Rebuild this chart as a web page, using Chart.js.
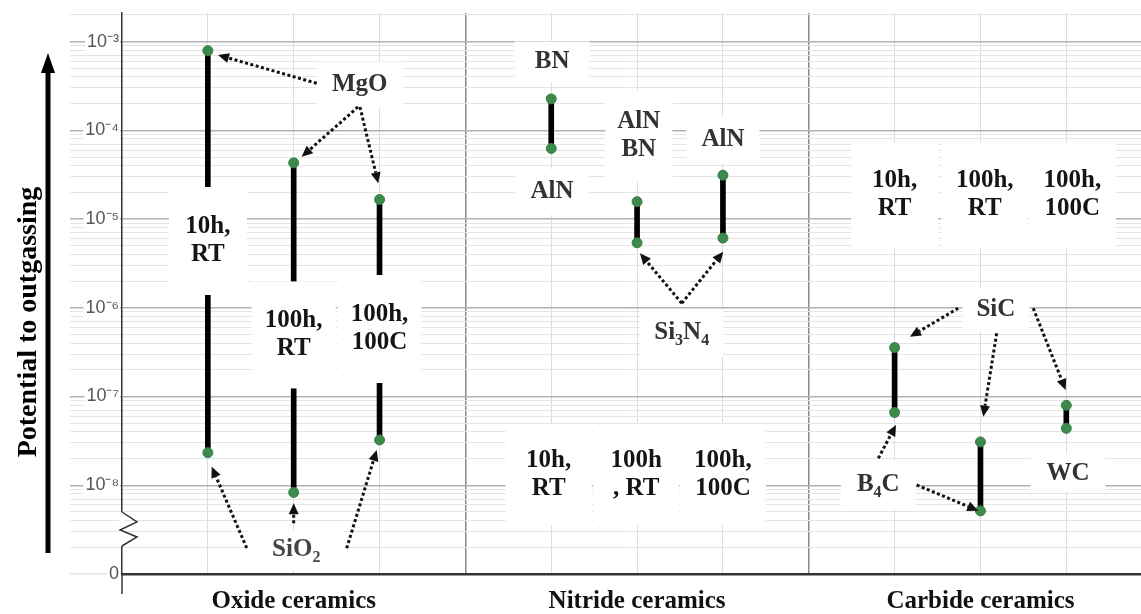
<!DOCTYPE html>
<html>
<head>
<meta charset="utf-8">
<script src="https://cdn.jsdelivr.net/npm/chart.js@4.4.1/dist/chart.umd.min.js"></script>
<style>
  html, body { margin: 0; padding: 0; background: #fff; }
  #wrap { width: 1141px; height: 614px; position: relative; }
</style>
</head>
<body>
<div id="wrap"><canvas id="outgassing"></canvas></div>
<script>
const groups = ['Oxide ceramics', 'Nitride ceramics', 'Carbide ceramics'];
const conditions = ['10h, RT', '100h, RT', '100h, 100C'];
// top / bottom of each range, same order as conditions
const oxideHigh   = [7.9e-4, 4.3e-5, 1.66e-5];
const oxideLow    = [2.33e-8, 8.3e-9, 3.24e-8];
const nitrideHigh = [2.26e-4, 1.57e-5, 3.12e-5];
const nitrideLow  = [6.24e-5, 5.4e-6, 6.1e-6];
const carbideHigh = [3.56e-7, 3.08e-8, 7.96e-8];
const carbideLow  = [6.6e-8, 5.14e-9, 4.38e-8];
const decades = [-9, -8, -7, -6, -5, -4, -3];
const decadeLabels = ['0', '10⁻⁸', '10⁻⁷', '10⁻⁶', '10⁻⁵', '10⁻⁴', '10⁻³'];

const highs = [oxideHigh, nitrideHigh, carbideHigh];
const lows = [oxideLow, nitrideLow, carbideLow];

// slot on the x axis: 3 per group, one empty slot between groups
const slot = (gi, ci) => gi * 4 + ci;

const bars = [];
const dots = [];
groups.forEach((g, gi) => conditions.forEach((c, ci) => {
  bars.push({x: slot(gi, ci), y: [lows[gi][ci], highs[gi][ci]]});
  dots.push({x: slot(gi, ci), y: highs[gi][ci]});
  dots.push({x: slot(gi, ci), y: lows[gi][ci]});
}));

// text boxes: x in slots, ly = log10 of y, box size in px
const notes = [
  {text: ['10h,', 'RT'], x: 0, ly: -5.247, w: 78, h: 108},
  {text: ['100h,', 'RT'], x: 1, ly: -6.306, w: 84, h: 107},
  {text: ['100h,', '100C'], x: 2, ly: -6.239, w: 84, h: 108},
  {text: ['MgO'], x: 1.77, ly: -3.489, w: 86, h: 47, color: '#333'},
  {text: ['SiO_2'], x: 1.03, ly: -8.729, w: 96, h: 40, color: '#444'},
  {text: ['BN'], x: 4.01, ly: -3.23, w: 75, h: 41, color: '#333'},
  {text: ['AlN'], x: 4.01, ly: -4.695, w: 75, h: 46, color: '#333'},
  {text: ['AlN', 'BN'], x: 5.02, ly: -4.064, w: 67, h: 92, color: '#333'},
  {text: ['AlN'], x: 6.0, ly: -4.109, w: 73, h: 48, color: '#333'},
  {text: ['Si_3N_4'], x: 5.52, ly: -6.284, w: 83, h: 47, color: '#333'},
  {text: ['10h,', 'RT'], x: 3.97, ly: -7.884, w: 86, h: 101},
  {text: ['100h', ', RT'], x: 4.99, ly: -7.884, w: 86, h: 101},
  {text: ['100h,', '100C'], x: 6.0, ly: -7.884, w: 86, h: 101},
  {text: ['10h,', 'RT'], x: 8.0, ly: -4.729, w: 87, h: 105},
  {text: ['100h,', 'RT'], x: 9.05, ly: -4.729, w: 87, h: 105},
  {text: ['100h,', '100C'], x: 10.07, ly: -4.729, w: 87, h: 105},
  {text: ['SiC'], x: 9.18, ly: -6.025, w: 67, h: 43, color: '#333'},
  {text: ['B_4C'], x: 7.81, ly: -7.997, w: 75, h: 49, color: '#333'},
  {text: ['WC'], x: 10.02, ly: -7.863, w: 75, h: 38, color: '#333'}
];

// dotted pointers, [slot, log10 y]
const pointers = [
  [[1.268, -3.470], [0.118, -3.151]],
  [[1.749, -3.737], [1.093, -4.297]],
  [[1.772, -3.737], [1.985, -4.597]],
  [[0.453, -8.707], [0.045, -7.790]],
  [[1.0, -8.428], [1.0, -8.203]],
  [[1.617, -8.710], [1.967, -7.602]],
  [[5.520, -5.949], [5.034, -5.386]],
  [[5.520, -5.949], [6.004, -5.368]],
  [[8.741, -6.005], [8.179, -6.326]],
  [[9.189, -6.287], [9.033, -7.227]],
  [[9.615, -6.005], [9.992, -6.926]],
  [[7.810, -7.696], [8.016, -7.320]],
  [[8.257, -7.997], [8.974, -8.286]]
];

const NOTE_FONT = 'bold 25px "Liberation Serif", "Times New Roman", serif';
const SUB_FONT = 'bold 16px "Liberation Serif", "Times New Roman", serif';

function drawRich(ctx, str, cx, cy) {
  const parts = str.split(/_(\d)/).map((t, i) => ({t, sub: i % 2 === 1})).filter(p => p.t);
  let w = 0;
  parts.forEach(p => {
    ctx.font = p.sub ? SUB_FONT : NOTE_FONT;
    p.w = ctx.measureText(p.t).width;
    w += p.w;
  });
  let x0 = cx - w / 2;
  parts.forEach(p => {
    ctx.font = p.sub ? SUB_FONT : NOTE_FONT;
    ctx.fillText(p.t, x0, cy + (p.sub ? 8 : 0));
    x0 += p.w;
  });
}

function drawPointer(ctx, x1, y1, x2, y2) {
  const a = Math.atan2(y2 - y1, x2 - x1);
  const head = 11, half = 5;
  const ex = x2 - Math.cos(a) * head, ey = y2 - Math.sin(a) * head;
  ctx.setLineDash([3, 2.5]);
  ctx.lineWidth = 3;
  ctx.beginPath();
  ctx.moveTo(x1, y1);
  ctx.lineTo(ex, ey);
  ctx.stroke();
  ctx.setLineDash([]);
  ctx.beginPath();
  ctx.moveTo(x2, y2);
  ctx.lineTo(ex + Math.sin(a) * half, ey - Math.cos(a) * half);
  ctx.lineTo(ex - Math.sin(a) * half, ey + Math.cos(a) * half);
  ctx.closePath();
  ctx.fill();
}

const decor = {
  id: 'decor',
  afterDatasetsDraw(chart) {
    const {ctx, scales: {x, y}} = chart;
    const px = v => x.getPixelForValue(v);
    const py = l => y.getPixelForValue(Math.pow(10, l));
    ctx.save();
    ctx.fillStyle = '#fff';
    notes.forEach(n => ctx.fillRect(px(n.x) - n.w / 2, py(n.ly) - n.h / 2, n.w, n.h));
    ctx.textAlign = 'left';
    ctx.textBaseline = 'middle';
    notes.forEach(n => {
      ctx.fillStyle = n.color || '#151515';
      const lh = 28;
      const y0 = py(n.ly) - (n.text.length - 1) * lh / 2;
      n.text.forEach((t, i) => drawRich(ctx, t, px(n.x), y0 + i * lh));
    });
    ctx.fillStyle = '#111';
    ctx.strokeStyle = '#111';
    pointers.forEach(([f, t]) => drawPointer(ctx, px(f[0]), py(f[1]), px(t[0]), py(t[1])));
    ctx.restore();
  },
  afterDraw(chart) {
    const {ctx, chartArea} = chart;
    ctx.save();
    // axis break on the y axis
    const ax = chartArea.left, b = chartArea.bottom;
    ctx.fillStyle = '#fff';
    ctx.fillRect(ax - 3, b - 62, 6, 34);
    ctx.strokeStyle = '#333';
    ctx.lineWidth = 1.5;
    ctx.beginPath();
    ctx.moveTo(ax, b - 62);
    ctx.lineTo(ax + 15, b - 52);
    ctx.lineTo(ax - 2, b - 44);
    ctx.lineTo(ax + 15, b - 37);
    ctx.lineTo(ax, b - 28);
    ctx.stroke();
    ctx.beginPath();
    ctx.moveTo(ax, b);
    ctx.lineTo(ax, b + 20);
    ctx.stroke();
    // big arrow
    ctx.fillStyle = '#000';
    ctx.fillRect(45.5, 70, 5, 483);
    ctx.beginPath();
    ctx.moveTo(48, 53);
    ctx.lineTo(55, 73);
    ctx.lineTo(41, 73);
    ctx.closePath();
    ctx.fill();
    // axis title
    ctx.translate(29, 322);
    ctx.rotate(-Math.PI / 2);
    ctx.font = 'bold 28px "Liberation Serif", "Times New Roman", serif';
    ctx.textAlign = 'center';
    ctx.textBaseline = 'middle';
    ctx.fillText('Potential to outgassing', 0, 0);
    ctx.restore();
  }
};

const isDecade = v => Math.abs(Math.log10(v) - Math.round(Math.log10(v))) < 1e-6;

new Chart(document.getElementById('outgassing'), {
  type: 'bar',
  data: {
    datasets: [{
      type: 'scatter',
      data: dots,
      pointRadius: 5,
      pointHoverRadius: 5,
      backgroundColor: '#3d8b4c',
      borderColor: '#3a7f47',
      borderWidth: 1,
      order: 1
    }, {
      data: bars,
      backgroundColor: '#000',
      barThickness: 5,
      order: 2
    }]
  },
  options: {
    responsive: true,
    maintainAspectRatio: false,
    animation: false,
    layout: { autoPadding: false, padding: { top: 13, right: 0, left: 0, bottom: 0 } },
    plugins: {
      legend: { display: false },
      tooltip: { enabled: false }
    },
    scales: {
      x: {
        type: 'linear',
        min: -1,
        max: 10.87,
        offset: false,
        afterBuildTicks: s => { s.ticks = Array.from({length: 12}, (_, i) => ({value: i - 1})); },
        afterFit: s => { s.height = 40; s.paddingRight = 0; s.paddingLeft = 0; },
        border: { color: '#333', width: 2.5 },
        grid: {
          offset: false,
          drawTicks: false,
          color: c => {
            const v = c.tick && c.tick.value;
            if (v === -1) return 'rgba(0,0,0,0)';
            return v === 3 || v === 7 ? '#8a8a8a' : '#dcdcdc';
          },
          lineWidth: c => (c.tick && (c.tick.value === 3 || c.tick.value === 7)) ? 1.5 : 1
        },
        ticks: {
          autoSkip: false,
          maxRotation: 0,
          padding: 13,
          color: '#111',
          font: { family: '"Liberation Serif", "Times New Roman", serif', size: 25, weight: 'bold' },
          callback: v => ({1: groups[0], 5: groups[1], 9: groups[2]})[v] || ''
        }
      },
      y: {
        type: 'logarithmic',
        min: 1e-9,
        max: 2.1e-3,
        afterBuildTicks: s => {
          const t = [];
          decades.forEach(e => {
            for (let k = 1; k <= 9; k++) {
              const v = k * Math.pow(10, e);
              if (v <= 2.05e-3) t.push({value: v});
            }
          });
          s.ticks = t;
        },
        afterFit: s => { s.width = 122; },
        border: { color: '#333', width: 1.5 },
        grid: {
          tickLength: 52,
          color: c => (c.tick && isDecade(c.tick.value) && c.tick.value > 2e-9) ? '#b2b2b2' : '#e4e4e4',
          lineWidth: c => (c.tick && isDecade(c.tick.value)) ? 1.5 : 1
        },
        ticks: {
          autoSkip: false,
          padding: -49,
          color: '#555',
          font: { family: '"Liberation Sans", Arial, sans-serif', size: 18 },
          showLabelBackdrop: c => !!(c.tick && isDecade(c.tick.value)),
          backdropColor: '#fff',
          backdropPadding: { top: 0, bottom: 0, left: 2, right: 1 },
          callback: v => {
            if (!isDecade(v)) return '';
            const i = decades.indexOf(Math.round(Math.log10(v)));
            return i >= 0 ? decadeLabels[i] : '';
          }
        }
      }
    }
  },
  plugins: [decor]
});
</script>
</body>
</html>
